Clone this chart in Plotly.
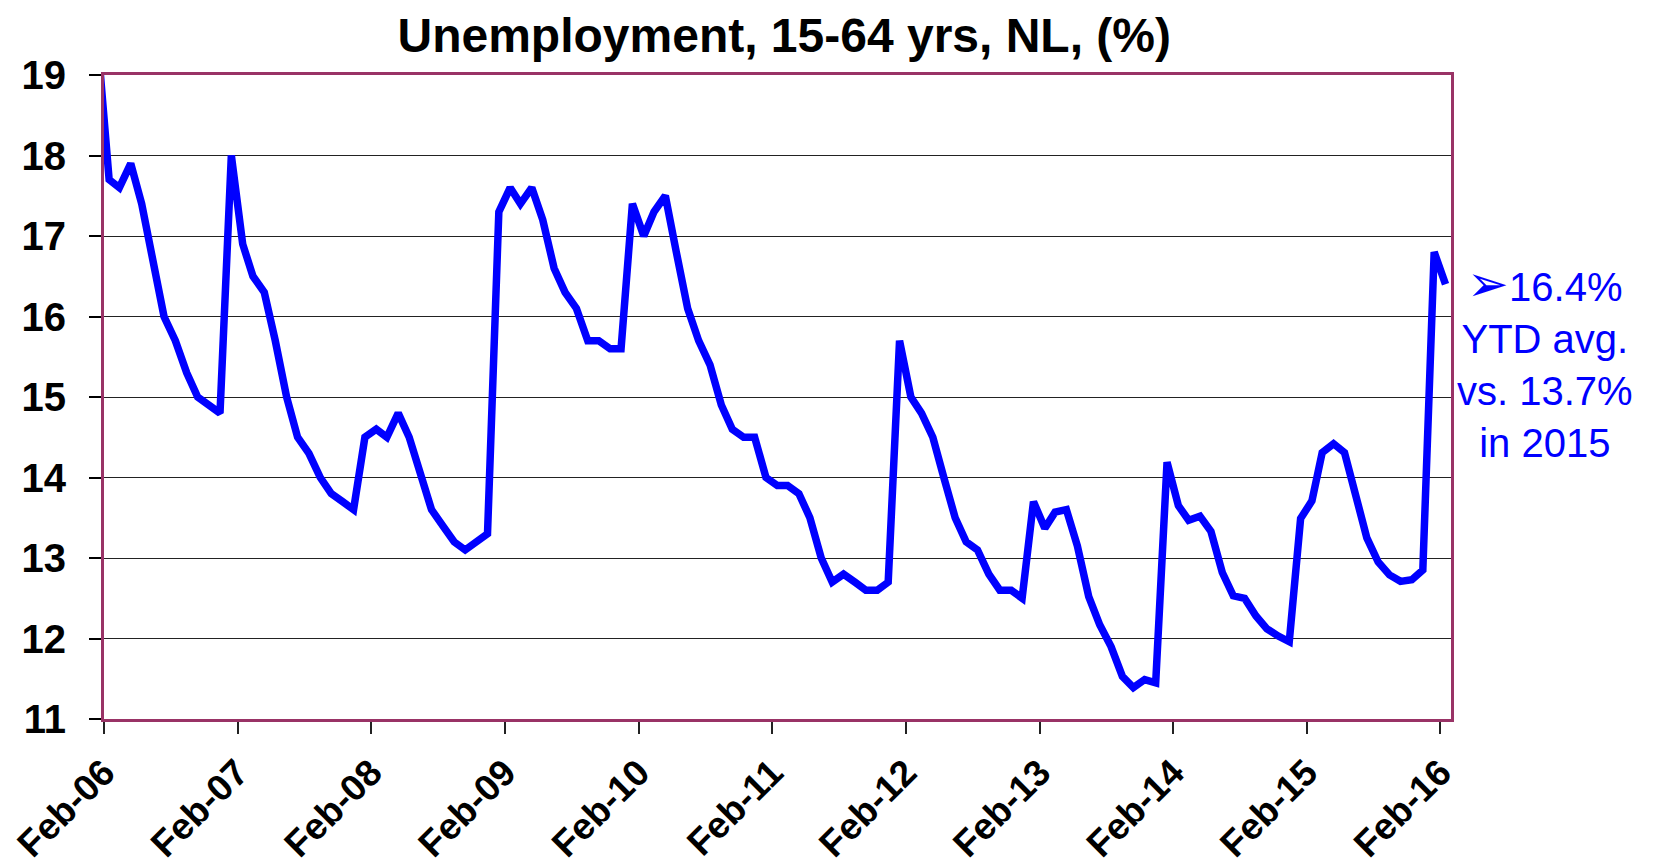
import pandas as pd
import plotly.graph_objects as go

# monthly unemployment rate, 15-64 yrs, NL (%), Jan-06 .. Feb-16
u2006 = [19.4, 17.7, 17.6, 17.9, 17.4, 16.7, 16.0, 15.7, 15.3, 15.0, 14.9, 14.8]
u2007 = [18.0, 16.9, 16.5, 16.3, 15.7, 15.0, 14.5, 14.3, 14.0, 13.8, 13.7, 13.6]
u2008 = [14.5, 14.6, 14.5, 14.8, 14.5, 14.0, 13.6, 13.4, 13.2, 13.1, 13.2, 13.3]
u2009 = [17.3, 17.6, 17.4, 17.6, 17.2, 16.6, 16.3, 16.1, 15.7, 15.7, 15.6, 15.6]
u2010 = [17.4, 17.0, 17.3, 17.5, 16.8, 16.1, 15.7, 15.4, 14.9, 14.6, 14.5, 14.5]
u2011 = [14.0, 13.9, 13.9, 13.8, 13.5, 13.0, 12.7, 12.8, 12.7, 12.6, 12.6, 12.7]
u2012 = [15.7, 15.0, 14.8, 14.5, 14.0, 13.5, 13.2, 13.1, 12.8, 12.6, 12.6, 12.5]
u2013 = [13.7, 13.37, 13.57, 13.6, 13.15, 12.52, 12.17, 11.9, 11.53, 11.39, 11.49, 11.45]
u2014 = [14.19, 13.65, 13.47, 13.52, 13.33, 12.82, 12.53, 12.5, 12.28, 12.12, 12.03, 11.96]
u2015 = [13.49, 13.71, 14.31, 14.42, 14.31, 13.73, 13.25, 12.95, 12.79, 12.71, 12.73, 12.85]
u2016 = [16.8, 16.4]

first_month = "2006-01"
tick_years = list(range(2006, 2017))

values = u2006 + u2007 + u2008 + u2009 + u2010 + u2011 + u2012 + u2013 + u2014 + u2015 + u2016
# Excel date axis: each monthly point sits in the middle of its month
months = pd.date_range(first_month, periods=len(values), freq="MS")
xdates = months + pd.Timedelta(days=14)

tickvals = [f"{y}-02-01" for y in tick_years]
ticktext = [f"Feb-{y % 100:02d}" for y in tick_years]

FONT = "Liberation Sans, Arial, sans-serif"
BORDER = "#993366"

fig = go.Figure()
fig.add_trace(go.Scatter(
    x=xdates, y=values,
    mode="lines", line=dict(color="#0000FF", width=7.5),
    showlegend=False, hoverinfo="x+y"
))

fig.update_layout(
    width=1654, height=863,
    margin=dict(l=104, r=203, t=75, b=144),
    plot_bgcolor="white", paper_bgcolor="white",
    font=dict(family=FONT, color="black"),
    title=dict(
        text="Unemployment, 15-64 yrs, NL, (%)",
        font=dict(size=48, family=FONT, weight="bold", color="black"),
        x=0.505, xref="paper", xanchor="center",
        y=1 - 35 / 863, yref="container", yanchor="middle",
    ),
    xaxis=dict(
        type="date",
        range=["2006-02-01", "2016-03-01"],
        tickvals=tickvals, ticktext=ticktext,
        tickangle=-45,
        tickfont=dict(size=37, family=FONT, weight="bold", color="black"),
        ticks="outside", ticklen=12, tickwidth=1.5, tickcolor="#222",
        ticklabelstandoff=2,
        showgrid=False, zeroline=False, automargin=False,
        showline=True, linecolor=BORDER, linewidth=3, mirror=True,
    ),
    yaxis=dict(
        range=[11, 19], dtick=1,
        tickfont=dict(size=40, family=FONT, weight="bold", color="black"),
        ticks="outside", ticklen=12, tickwidth=1.5, tickcolor="black",
        ticklabelstandoff=15,
        showgrid=True, gridcolor="#222222", gridwidth=1,
        zeroline=False, automargin=False,
        showline=True, linecolor=BORDER, linewidth=3, mirror=True,
    ),
)

fig.add_annotation(
    text="<span style='font-size:50px'>➢</span>16.4%<br>YTD avg.<br>vs. 13.7%<br>in 2015",
    xref="paper", yref="paper",
    x=1.0695, y=0.556, xanchor="center", yanchor="middle",
    showarrow=False, align="center",
    font=dict(size=40, family=FONT, color="#0000FF"),
)

# drop the browser's default 8px body margin so the 1654x863 figure fills the window exactly
fig.write_html(
    "out.html",
    config={"displayModeBar": False},
    post_script="document.body.style.margin='0';",
)
